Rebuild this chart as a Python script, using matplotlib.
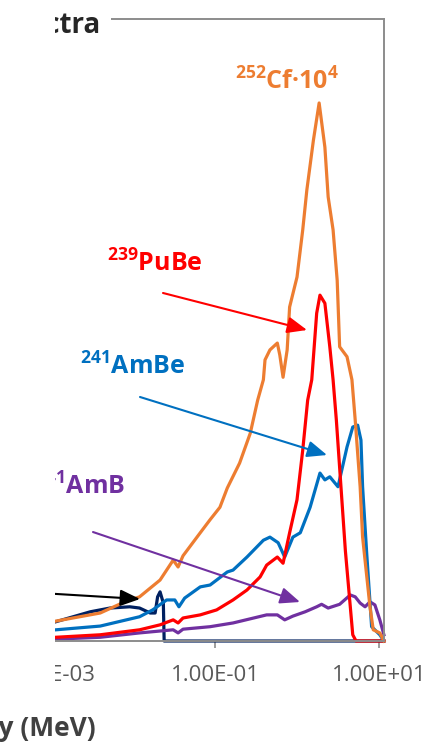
import numpy as np
import matplotlib
matplotlib.use("Agg")
import matplotlib.pyplot as plt
from matplotlib.patches import Rectangle
from matplotlib.ticker import FixedLocator, FuncFormatter, NullLocator

plt.rcParams["font.family"] = ["Open Sans", "DejaVu Sans"]
plt.rcParams["mathtext.fontset"] = "custom"
plt.rcParams["mathtext.rm"] = "Open Sans:bold"
plt.rcParams["mathtext.bf"] = "Open Sans:bold"

# ---- spectra: log10(E / MeV) and intensity (arbitrary units) ----
cf_logE = [-2.94, -2.40, -2.10, -1.92, -1.67, -1.51, -1.45, -1.39, -1.18, -1.06,
           -0.94, -0.85, -0.70, -0.57, -0.48, -0.41, -0.39, -0.33, -0.24, -0.21,
           -0.17, -0.12, -0.09, 0.00, 0.07, 0.12, 0.20, 0.27, 0.34, 0.38,
           0.44, 0.49, 0.52, 0.61, 0.67, 0.71, 0.77, 0.80, 0.89, 0.93,
           1.01, 1.06]
cf_int = [3.2, 4.5, 6.3, 7.1, 9.8, 13.0, 11.9, 13.7, 17.4, 19.5,
          21.5, 24.6, 28.6, 33.4, 38.7, 42.0, 45.2, 46.8, 47.9, 46.0,
          42.4, 46.8, 53.7, 58.5, 66.1, 72.5, 80.5, 86.5, 79.4, 71.4,
          66.1, 58.0, 47.3, 45.7, 42.0, 35.5, 24.8, 16.7, 5.5, 1.8,
          1.3, 0.0]

pube_logE = [-2.94, -2.40, -1.92, -1.67, -1.51, -1.45, -1.39, -1.18, -0.98, -0.78,
             -0.61, -0.45, -0.37, -0.24, -0.17, -0.09, 0.00, 0.07, 0.13, 0.18,
             0.24, 0.28, 0.34, 0.40, 0.44, 0.48, 0.59, 0.68, 0.72, 1.06]
pube_int = [0.6, 1.0, 1.8, 2.6, 3.4, 2.9, 3.7, 4.2, 5.0, 6.6,
            8.2, 10.3, 12.2, 13.5, 12.5, 17.4, 22.7, 30.7, 38.7, 42.0,
            52.7, 55.6, 54.3, 47.3, 42.0, 35.5, 14.5, 1.0, 0.0, 0.0]

ambe_logE = [-2.94, -2.40, -1.92, -1.76, -1.59, -1.49, -1.44, -1.37, -1.18, -1.06,
             -0.85, -0.78, -0.61, -0.41, -0.33, -0.23, -0.15, -0.05, 0.04, 0.16,
             0.28, 0.34, 0.40, 0.50, 0.61, 0.68, 0.74, 0.78, 0.80, 0.85,
             0.91, 1.01, 1.06]
ambe_int = [1.8, 2.4, 3.9, 5.0, 6.6, 6.6, 5.5, 6.9, 8.7, 9.0,
            11.1, 11.4, 13.5, 16.2, 16.7, 15.8, 13.5, 16.7, 17.4, 21.5,
            27.0, 25.9, 26.4, 24.8, 31.2, 34.4, 34.7, 32.3, 24.8, 14.1,
            2.3, 1.0, 0.0]

amb_logE = [-2.94, -2.40, -1.92, -1.51, -1.45, -1.39, -1.06, -0.78, -0.37, -0.24,
            -0.15, -0.05, 0.10, 0.24, 0.30, 0.38, 0.52, 0.65, 0.71, 0.77,
            0.83, 0.89, 0.95, 1.01, 1.06]
amb_int = [0.3, 0.6, 1.3, 1.8, 1.3, 1.9, 2.3, 2.9, 4.2, 4.2,
           3.4, 4.0, 4.7, 5.5, 5.9, 5.3, 5.9, 7.4, 7.1, 6.1,
           5.5, 6.3, 5.8, 3.4, 1.0]

low_logE = [-2.94, -2.52, -2.28, -2.04, -1.92, -1.79, -1.73, -1.70, -1.67, -1.63,
            -1.62, 1.06]
low_int = [3.1, 4.7, 5.3, 5.5, 5.3, 4.5, 4.5, 7.1, 7.9, 6.1,
           0.0, 0.0]

tick_energies = [1e-3, 1e-1, 1e1]

C_CF = "#ED7D31"
C_PU = "#FF0000"
C_AMBE = "#0070C0"
C_AMB = "#7030A0"
C_LOW = "#002060"
FRAME_GREY = "#8C8C8C"

W, H = 437, 745
fig = plt.figure(figsize=(W / 100, H / 100), dpi=100)

# axes frame in pixel terms of the canvas
ax_left, ax_right, ax_top, ax_bottom = 0, 384, 19, 641
ax = fig.add_axes([ax_left / W, 1 - ax_bottom / H,
                   (ax_right - ax_left) / W, (ax_bottom - ax_top) / H])
ax.set_xscale("log")
ax.set_xlim(10 ** -3.622, 10 ** 1.061)
ax.set_ylim(0, 100)

lw = 2.3
series = [
    (low_logE, low_int, C_LOW),
    (amb_logE, amb_int, C_AMB),
    (ambe_logE, ambe_int, C_AMBE),
    (pube_logE, pube_int, C_PU),
    (cf_logE, cf_int, C_CF),
]
for logE, inten, col in series:
    ax.plot(10 ** np.array(logE), inten, color=col, lw=lw, clip_on=False,
            solid_joinstyle="round")

for side in ["top", "right", "bottom"]:
    ax.spines[side].set_color(FRAME_GREY)
    ax.spines[side].set_linewidth(1.4)
ax.spines["left"].set_visible(False)

ax.yaxis.set_major_locator(NullLocator())
ax.yaxis.set_minor_locator(NullLocator())
ax.xaxis.set_major_locator(FixedLocator(tick_energies))
ax.xaxis.set_minor_locator(NullLocator())
ax.xaxis.set_major_formatter(FuncFormatter(lambda v, p: f"{v:.2E}"))
ax.tick_params(axis="x", direction="out", length=5, width=1.2, color=FRAME_GREY,
               labelsize=16, labelcolor="#595959", pad=12)

# source labels with arrows (axes-fraction coordinates)
lab_kw = dict(transform=ax.transAxes, fontsize=18, fontweight="bold")
ax.text(0.612, 0.886, r"$^{252}$Cf·10$^{4}$", color=C_CF, ha="left", va="baseline", **lab_kw)
ax.text(0.279, 0.594, r"$^{239}$PuBe", color=C_PU, ha="left", va="baseline", **lab_kw)
ax.text(0.208, 0.429, r"$^{241}$AmBe", color=C_AMBE, ha="left", va="baseline", **lab_kw)
ax.text(0.326, 0.236, r"$^{241}$AmB", color=C_AMB, ha="right", va="baseline", **lab_kw)

arrows = [
    ((0.4245, 0.5595), (0.7995, 0.500), C_PU),
    ((0.3646, 0.3923), (0.8516, 0.299), C_AMBE),
    ((0.2422, 0.1752), (0.7813, 0.0627), C_AMB),
    ((0.104, 0.0772), (0.3646, 0.0675), "black"),
]
for start, tip, col in arrows:
    ax.annotate("", xy=tip, xytext=start, xycoords="axes fraction",
                textcoords="axes fraction",
                arrowprops=dict(arrowstyle="-|>,head_length=0.6,head_width=0.25",
                                mutation_scale=20, color=col, lw=1.5,
                                shrinkA=0, shrinkB=0))

# title and axis caption
fig.text(101 / W, 1 - 25 / H, "Spectra", ha="right", va="center",
         fontsize=20, fontweight="bold", color="#262626",
         bbox=dict(facecolor="white", edgecolor="none", pad=7), zorder=5)
fig.text(96 / W, 1 - 728 / H, "Neutron Energy (MeV)", ha="right", va="center",
         fontsize=19, fontweight="bold", color="#404040")

# white panel over the left margin
fig.add_artist(Rectangle((0, 1 - 703 / H), 55 / W, 703 / H, transform=fig.transFigure,
                         facecolor="white", edgecolor="none", zorder=20))

fig.savefig("out.png", dpi=100)
